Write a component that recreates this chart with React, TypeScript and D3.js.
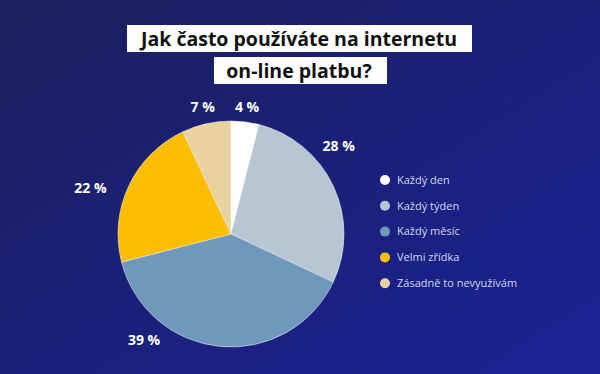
import { arc, pie, scaleOrdinal } from 'd3';

const categories = ['Každý den', 'Každý týden', 'Každý měsíc', 'Velmi zřídka', 'Zásadně to nevyužívám'];
const shares = [4, 28, 39, 22, 7];
const sliceColors = ['#ffffff', '#b8c5d3', '#6f98ba', '#fdbd00', '#e8d3a0'];
const titleLines = ['Jak často používáte na internetu', 'on-line platbu?'];

const width = 600;
const height = 374;
const center = { x: 231, y: 234 };
const radius = 113;

// label placement tweaks (degrees shift, distance from centre), the source nudges them by hand
const labelPlacement: Record<string, { shift: number; dist: number }> = {
  'Každý den': { shift: 0, dist: 128 },
  'Každý týden': { shift: -14, dist: 139 },
  'Každý měsíc': { shift: 34, dist: 137 },
  'Velmi zřídka': { shift: -7, dist: 148 },
  'Zásadně to nevyužívám': { shift: 0, dist: 130 },
};

type Slice = { label: string; value: number };

export default function App() {
  const data: Slice[] = categories.map((label, i) => ({ label, value: shares[i] }));
  const color = scaleOrdinal<string, string>().domain(categories).range(sliceColors);
  const arcs = pie<Slice>().sort(null).value(d => d.value)(data);
  const path = arc<any>().innerRadius(0).outerRadius(radius);

  return (
    <svg
      width={width}
      height={height}
      viewBox={`0 0 ${width} ${height}`}
      style={{ position: 'fixed', left: 0, top: 0, fontFamily: '"Open Sans", sans-serif' }}
    >
      <defs>
        <linearGradient id="bg" x1="0" y1="0" x2="1" y2="1">
          <stop offset="0%" stopColor="#1b1f5c" />
          <stop offset="100%" stopColor="#1a2296" />
        </linearGradient>
      </defs>
      <rect width={width} height={height} fill="url(#bg)" />

      <rect x={127} y={25} width={345} height={27} fill="#ffffff" />
      <rect x={214} y={57} width={173} height={27} fill="#ffffff" />
      {titleLines.map((line, i) => (
        <text key={line} x={299} y={46 + i * 32} textAnchor="middle" fontSize={19.5} fontWeight={700} fill="#111">
          {line}
        </text>
      ))}

      <g transform={`translate(${center.x},${center.y})`}>
        {arcs.map(a => (
          <path key={a.data.label} d={path(a) ?? ''} fill={color(a.data.label)} stroke="#ffffff" strokeWidth={0.5} />
        ))}
        {arcs.map(a => {
          const p = labelPlacement[a.data.label];
          const ang = (a.startAngle + a.endAngle) / 2 + (p.shift * Math.PI) / 180;
          const x = Math.sin(ang) * p.dist;
          const y = -Math.cos(ang) * p.dist;
          return (
            <text key={a.data.label} x={x} y={y} dy="0.35em" textAnchor="middle" fontSize={14} fontWeight={700} fill="#ffffff">
              {`${a.data.value} %`}
            </text>
          );
        })}
      </g>

      {categories.map((label, i) => (
        <g key={label} transform={`translate(385,${180 + i * 25.8})`}>
          <circle r={5} fill={color(label)} />
          <text x={12} dy="0.35em" fontSize={11} fill="#d2d7ee">{label}</text>
        </g>
      ))}
    </svg>
  );
}
